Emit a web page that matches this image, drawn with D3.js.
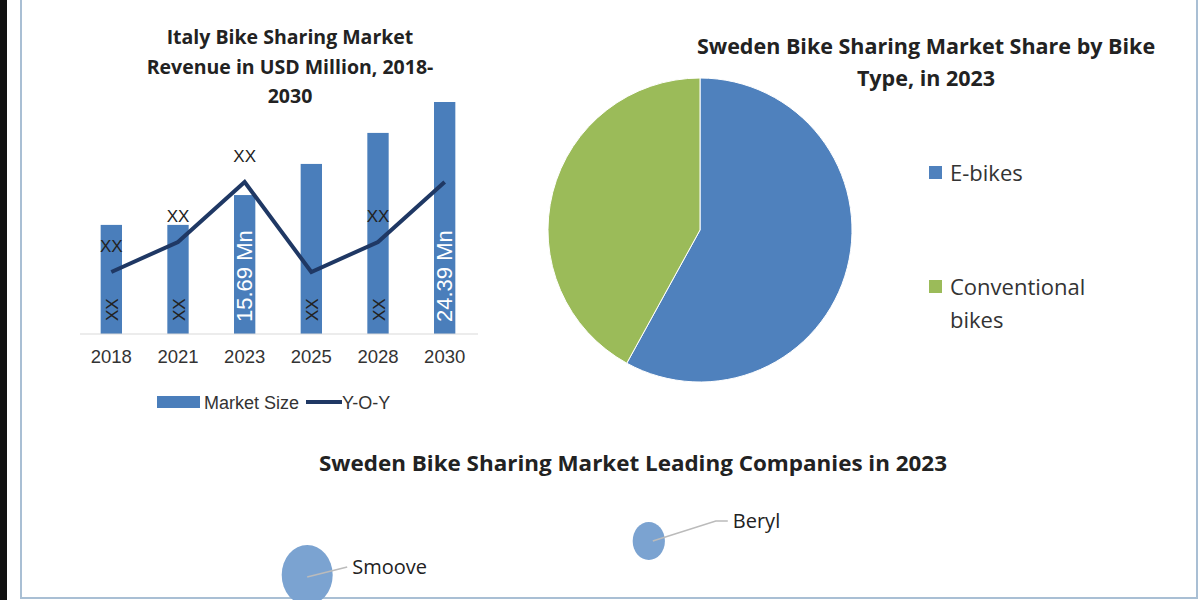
<!DOCTYPE html>
<html><head><meta charset="utf-8">
<script src="https://cdn.jsdelivr.net/npm/d3@7"></script>
<style>body{margin:0;background:#fff}svg{display:block;font-family:"Open Sans",Arial,sans-serif}</style>
</head><body><svg id="c" width="1200" height="600"></svg>
<script>
const years = ["2018","2021","2023","2025","2028","2030"];
const marketSize = [12.9, 12.9, 15.69, 18.6, 21.5, 24.39];
const yoy = [4, 5, 7, 4, 5, 7];
const barValueLabels = ["XX","XX","15.69 Mn","XX","XX","24.39 Mn"];
const yoyLabels = ["XX","XX","XX","","XX",""];
const pieCats = ["E-bikes","Conventional bikes"];
const pieVals = [58, 42];
const companies = ["Beryl","Smoove"];
const compX = [7.84, 2.96];
const compY = [4.74, 3.26];
const compSize = [1, 2.5];

const svg = d3.select("#c");
svg.append("rect").attr("x",0).attr("y",0).attr("width",7).attr("height",600).attr("fill","#111");
svg.append("rect").attr("x",21).attr("y",-2).attr("width",1176).attr("height",600).attr("fill","none").attr("stroke","#a9bfd4").attr("stroke-width",2);

const x = d3.scaleBand().domain(years).range([78,478]).paddingInner(0.68).paddingOuter(0.34);
const y = d3.scaleLinear().domain([2.7,24.39]).range([334,102]);
const yl = d3.scaleLinear().domain([0,10]).range([392,92]);
const g = svg.append("g");
[["Italy Bike Sharing Market",44],["Revenue in USD Million, 2018-",74],["2030",103]].forEach(([t,yy])=>
  g.append("text").attr("x",290).attr("y",yy).attr("text-anchor","middle").attr("font-weight","bold").attr("font-size",19.5).attr("fill","#222").text(t));
g.selectAll(".bar").data(years).join("rect").attr("x",d=>x(d)).attr("width",x.bandwidth())
  .attr("y",(d,i)=>y(marketSize[i])).attr("height",(d,i)=>334-y(marketSize[i])).attr("fill","#4a7ebb");
g.append("line").attr("x1",80).attr("x2",478).attr("y1",334).attr("y2",334).attr("stroke","#d9d9d9");
const xa = g.append("g").attr("transform","translate(0,334)").call(d3.axisBottom(x).tickSize(0).tickPadding(16));
xa.select(".domain").remove();
xa.selectAll("text").attr("font-size",18.5).attr("fill","#333").attr("font-family","Arial, sans-serif");
g.selectAll(".vl").data(years).join("text").attr("font-family","Arial, sans-serif")
  .attr("transform",d=>`translate(${x(d)+x.bandwidth()/2+7},${barValueLabels[years.indexOf(d)].length>2?322:321}) rotate(-90)`)
  .attr("font-size",(d,i)=>barValueLabels[i].length>2?22:17).attr("fill",(d,i)=>barValueLabels[i].length>2?"#fff":"#222")
  .text((d,i)=>barValueLabels[i]);
const line = d3.line().x((d,i)=>x(years[i])+x.bandwidth()/2).y(d=>yl(d));
g.append("path").datum(yoy).attr("d",line).attr("fill","none").attr("stroke","#1f3864").attr("stroke-width",4);
g.selectAll(".yl").data(yoy).join("text").attr("font-family","Arial, sans-serif").attr("font-size",17).attr("fill","#222").attr("text-anchor","middle")
  .attr("x",(d,i)=>x(years[i])+x.bandwidth()/2).attr("y",(d,i)=>yl(d)-20).text((d,i)=>yoyLabels[i]);
g.append("rect").attr("x",157).attr("y",396).attr("width",43).attr("height",12).attr("fill","#4a7ebb");
g.append("text").attr("x",204).attr("y",409).attr("font-size",18).attr("font-family","Arial, sans-serif").attr("fill","#333").text("Market Size");
g.append("line").attr("x1",306).attr("x2",342).attr("y1",402).attr("y2",402).attr("stroke","#1f3864").attr("stroke-width",4);
g.append("text").attr("x",342).attr("y",409).attr("font-size",18).attr("font-family","Arial, sans-serif").attr("fill","#333").text("Y-O-Y");

const pc = ["#4f81bd","#9bbb59"];
[["Sweden Bike Sharing Market Share by Bike",54],["Type, in 2023",86]].forEach(([t,yy])=>
  svg.append("text").attr("x",926).attr("y",yy).attr("text-anchor","middle").attr("font-weight","bold").attr("font-size",21.5).attr("fill","#222").text(t));
const arcs = d3.pie().sort(null)(pieVals);
svg.append("g").attr("transform","translate(700,230)").selectAll("path").data(arcs).join("path")
  .attr("d",d3.arc().innerRadius(0).outerRadius(152)).attr("fill",(d,i)=>pc[i]).attr("stroke","#fff").attr("stroke-width",1);
const lg = [[173,["E-bikes"]],[287,["Conventional","bikes"]]];
lg.forEach(([yy,lines],i)=>{
  svg.append("rect").attr("x",929).attr("y",yy-7).attr("width",13).attr("height",13).attr("fill",pc[i]);
  lines.forEach((t,j)=>svg.append("text").attr("x",950).attr("y",yy+8+j*33).attr("font-size",22).attr("fill","#333").text(t));
});

svg.append("text").attr("x",633).attr("y",471).attr("text-anchor","middle").attr("font-weight","bold").attr("font-size",21)
  .attr("font-family","'Open Sans',Arial,sans-serif").attr("textLength",628).attr("lengthAdjust","spacingAndGlyphs").attr("fill","#222").text("Sweden Bike Sharing Market Leading Companies in 2023");
const bx = d3.scaleLinear().domain([0,10]).range([100,800]);
const by = d3.scaleLinear().domain([0,10]).range([650,420]);
const br = d3.scaleSqrt().domain([0,2.5]).range([0,30]);
companies.forEach((c,i)=>{
  const cx=bx(compX[i]), cy=by(compY[i]), r=br(compSize[i]);
  svg.append("ellipse").attr("cx",cx).attr("cy",cy).attr("rx",r*0.85).attr("ry",r).attr("fill","#7ba3d1");
  const ex = i==0?cx+79:cx+40, ey = i==0?cy-20:cy-8;
  svg.append("path").attr("d",i==0?`M${cx+4},${cy}L${ex-12},${ey}L${ex},${ey}`:`M${cx},${cy+2}L${ex},${ey}`).attr("fill","none").attr("stroke","#bbb").attr("stroke-width",1.5);
  svg.append("text").attr("x",ex+5).attr("y",ey+7).attr("font-size",20).attr("font-family","'Open Sans',Arial,sans-serif").attr("fill","#222").text(c);
});
</script></body></html>
